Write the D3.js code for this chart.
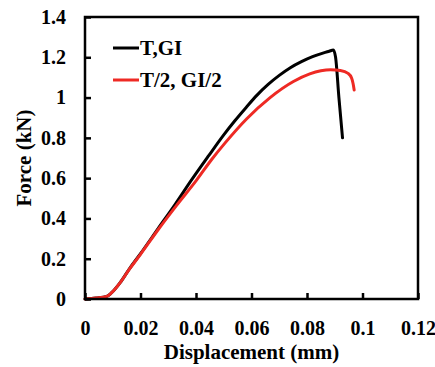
<!DOCTYPE html>
<html>
<head>
<meta charset="utf-8">
<script src="https://cdn.jsdelivr.net/npm/d3@7"></script>
<style>
  html, body { margin: 0; padding: 0; background: #fff; }
  svg { display: block; }
  text { font-family: "Liberation Serif", "Times New Roman", serif; font-weight: bold; fill: #000; }
</style>
</head>
<body>
<svg id="chart" width="435" height="367"></svg>
<script>
// ---- Data ----
const seriesNames = ["T,GI", "T/2, GI/2"];
const seriesColors = ["#000000", "#ee2a24"];

const blackX = [0, 0.004, 0.0078, 0.0095, 0.0126, 0.016, 0.020, 0.0264, 0.0325, 0.0384, 0.0445, 0.0500, 0.0540, 0.0580, 0.0620, 0.0660, 0.0700, 0.0740, 0.0780, 0.0820, 0.0860, 0.0880, 0.0895, 0.0903, 0.0915, 0.0928];
const blackY = [0, 0.005, 0.013, 0.030, 0.080, 0.150, 0.225, 0.351, 0.470, 0.591, 0.710, 0.815, 0.885, 0.950, 1.012, 1.065, 1.110, 1.148, 1.178, 1.203, 1.222, 1.230, 1.236, 1.200, 1.000, 0.800];

const redX = [0, 0.004, 0.0078, 0.0095, 0.0126, 0.016, 0.020, 0.0264, 0.0330, 0.0402, 0.0455, 0.0505, 0.0583, 0.0667, 0.0751, 0.0810, 0.0850, 0.0885, 0.0920, 0.0948, 0.0961, 0.0966, 0.0970];
const redY = [0, 0.005, 0.013, 0.030, 0.080, 0.148, 0.222, 0.345, 0.465, 0.590, 0.690, 0.775, 0.895, 1.000, 1.080, 1.118, 1.133, 1.138, 1.134, 1.120, 1.096, 1.070, 1.038];

const xTicks = [0, 0.02, 0.04, 0.06, 0.08, 0.1, 0.12];
const xTickLabels = ["0", "0.02", "0.04", "0.06", "0.08", "0.1", "0.12"];
const yTicks = [0, 0.2, 0.4, 0.6, 0.8, 1, 1.2, 1.4];
const yTickLabels = ["0", "0.2", "0.4", "0.6", "0.8", "1", "1.2", "1.4"];
const xTitle = "Displacement (mm)";
const yTitle = "Force (kN)";

// ---- Chart ----
const svg = d3.select("#chart");
const pL = 85, pR = 418, pT = 17, pB = 299;

const x = d3.scaleLinear().domain([0, 0.12]).range([pL, pR]);
const y = d3.scaleLinear().domain([0, 1.4]).range([pB, pT]);

const series = [
  blackX.map((v, i) => [v, blackY[i]]),
  redX.map((v, i) => [v, redY[i]])
];
const line = d3.line().x(d => x(d[0])).y(d => y(d[1])).curve(d3.curveMonotoneX);

series.forEach((s, i) => {
  svg.append("path").datum(s).attr("d", line)
    .attr("fill", "none").attr("stroke", seriesColors[i]).attr("stroke-width", 3)
    .attr("stroke-linejoin", "round").attr("stroke-linecap", "round");
});

// axes (ticks inward)
const xAxis = d3.axisBottom(x).tickValues(xTicks).tickFormat((d, i) => xTickLabels[i])
  .tickSizeInner(-6).tickSizeOuter(0).tickPadding(22);
const gx = svg.append("g").attr("transform", `translate(0,${pB})`).call(xAxis);
gx.select(".domain").remove();
gx.selectAll(".tick line").attr("stroke", "#000").attr("stroke-width", 2.5);
gx.selectAll(".tick text").attr("font-size", 20).attr("fill", "#000")
  .style("font-family", "Liberation Serif, serif").style("font-weight", "bold");

const yAxis = d3.axisLeft(y).tickValues(yTicks).tickFormat((d, i) => yTickLabels[i])
  .tickSizeInner(-6).tickSizeOuter(0).tickPadding(19);
const gy = svg.append("g").attr("transform", `translate(${pL},0)`).call(yAxis);
gy.select(".domain").remove();
gy.selectAll(".tick line").attr("stroke", "#000").attr("stroke-width", 2.5);
gy.selectAll(".tick text").attr("font-size", 20).attr("fill", "#000")
  .style("font-family", "Liberation Serif, serif").style("font-weight", "bold");

// frame
svg.append("rect").attr("x", pL).attr("y", pT)
  .attr("width", pR - pL).attr("height", pB - pT)
  .attr("fill", "none").attr("stroke", "#000").attr("stroke-width", 2.5);

// titles
svg.append("text").attr("x", (pL + pR) / 2).attr("y", 359)
  .attr("text-anchor", "middle").attr("font-size", 21).text(xTitle);
svg.append("text").attr("transform", `translate(31,${(pT + pB) / 2}) rotate(-90)`)
  .attr("text-anchor", "middle").attr("font-size", 21).text(yTitle);

// legend
const legY = [48, 80];
seriesNames.forEach((name, i) => {
  svg.append("line").attr("x1", 113).attr("x2", 139)
    .attr("y1", legY[i]).attr("y2", legY[i])
    .attr("stroke", seriesColors[i]).attr("stroke-width", 3);
  svg.append("text").attr("x", 140).attr("y", legY[i] + 7)
    .attr("font-size", 21).text(name);
});
</script>
</body>
</html>
